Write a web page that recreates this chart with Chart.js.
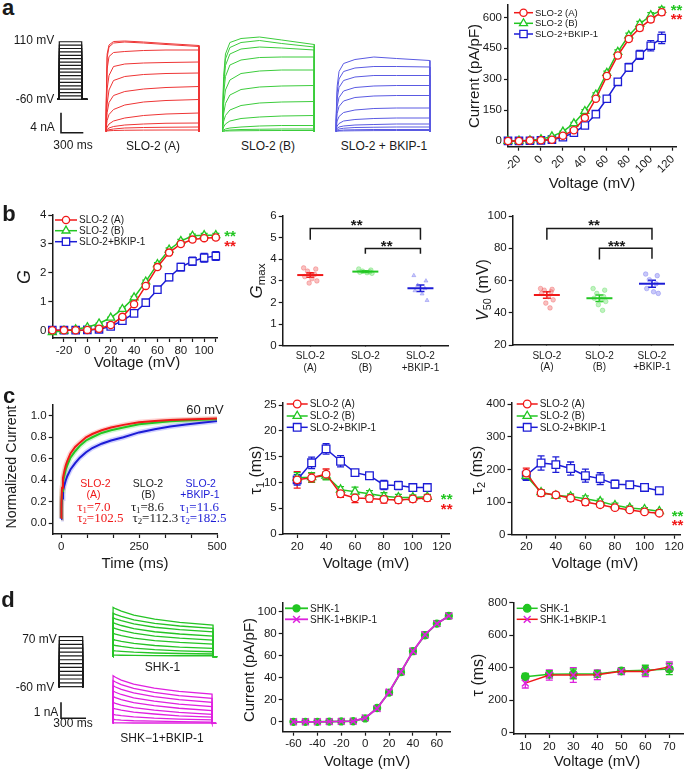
<!DOCTYPE html>
<html><head><meta charset="utf-8">
<script src="https://cdn.jsdelivr.net/npm/chart.js@4.4.1/dist/chart.umd.min.js"></script>
<style>
html,body{margin:0;padding:0;background:#fff;}
#fig{position:relative;width:685px;height:770px;overflow:hidden;background:#fff;font-family:'Liberation Sans',Arial,sans-serif;color:#1a1a1a;}
#fig canvas{position:absolute;}
.t{position:absolute;white-space:nowrap;line-height:1;}
sub{font-size:68%;vertical-align:-0.28em;line-height:0;}
</style></head><body><div id="fig"></div>
<script>
// ================= DATA =================
// panel a : I-V
const IV_V = [-30,-20,-10,0,10,20,30,40,50,60,70,80,90,100,110];
const IV_A = [0,0,2,3,6,25,52,112,205,315,415,495,548,590,625];
const IV_B = [0,1,3,8,22,45,85,145,225,330,432,512,568,610,635];
const IV_C = [0,0,1,3,6,18,40,75,130,205,287,357,418,462,500];
const IV_A_ERR = [0,0,1,1,2,3,5,7,8,9,10,11,12,13,14];
const IV_B_ERR = [0,0,1,1,2,3,5,7,8,9,10,11,12,13,14];
const IV_C_ERR = [0,0,0,1,2,3,5,7,10,13,16,19,22,25,28];
const IV_XTICKS = [-20,0,20,40,60,80,100,120];
const IV_YTICKS = [0,150,300,450,600];

// panel a : raw current traces (nA) at sample times (ms)
const TA = [0,1,15,40,100,250,500,800,1240,1241];
const TRACES_A = [
 [0,4.0,15.5,17.3,18.0,18.1,17.9,17.6,17.2,0],
 [0,3.5,14.8,16.9,17.7,17.9,17.7,17.4,17.0,0],
 [0,3.0,12.5,15.0,15.8,16.0,16.2,16.3,16.3,0],
 [0,2.0,8.5,11.2,13.0,13.5,13.7,13.8,13.9,0],
 [0,1.5,5.5,8.3,10.2,11.0,11.4,11.6,11.7,0],
 [0,1.0,3.8,5.8,7.2,8.0,8.5,8.8,9.0,0],
 [0,0.6,2.2,3.4,4.4,5.3,5.9,6.2,6.4,0],
 [0,0.3,0.9,1.5,2.1,2.7,3.2,3.5,3.7,0],
 [0,0.1,0.4,0.7,1.0,1.3,1.5,1.65,1.7,0],
 [0,0.05,0.2,0.35,0.5,0.7,0.8,0.85,0.9,0],
 [0,0,0.1,0.15,0.2,0.25,0.28,0.3,0.3,0]
];
const TRACES_B = [
 [0,3.0,11.0,15.5,17.8,18.6,18.9,18.3,17.4,0],
 [0,2.5,10.0,14.5,16.8,17.8,18.2,17.6,16.9,0],
 [0,2.2,9.0,13.2,15.5,16.5,16.9,16.7,16.3,0],
 [0,1.8,7.5,11.0,13.3,14.3,14.8,14.9,14.9,0],
 [0,1.3,5.5,8.3,10.3,11.6,12.1,12.3,12.3,0],
 [0,0.9,3.5,5.6,7.3,8.4,8.9,9.1,9.2,0],
 [0,0.5,2.0,3.2,4.3,5.2,5.7,5.9,6.0,0],
 [0,0.2,0.9,1.5,2.1,2.6,2.9,3.1,3.2,0],
 [0,0.1,0.3,0.5,0.7,0.9,1.1,1.2,1.2,0],
 [0,0,0.1,0.2,0.3,0.4,0.45,0.5,0.5,0],
 [0,0,0.05,0.1,0.12,0.15,0.18,0.2,0.2,0]
];
const TRACES_C = [
 [0,2.5,9.0,12.0,13.6,14.4,14.9,14.6,14.2,0],
 [0,2.0,7.8,10.5,12.0,12.7,13.0,13.0,12.9,0],
 [0,1.6,6.5,8.8,10.2,10.9,11.2,11.2,11.2,0],
 [0,1.2,5.0,6.8,8.1,8.8,9.1,9.2,9.2,0],
 [0,0.9,3.6,5.0,6.1,6.8,7.1,7.2,7.2,0],
 [0,0.5,2.1,3.0,3.8,4.3,4.6,4.7,4.7,0],
 [0,0.3,1.1,1.6,2.1,2.4,2.6,2.7,2.7,0],
 [0,0.15,0.6,0.9,1.1,1.3,1.4,1.5,1.5,0],
 [0,0.1,0.3,0.5,0.65,0.8,0.85,0.9,0.9,0],
 [0,0,0.15,0.2,0.3,0.35,0.4,0.4,0.4,0],
 [0,0,0.05,0.1,0.12,0.15,0.18,0.2,0.2,0]
];
const STEPS_A = [-60,-50,-40,-30,-20,-10,0,10,20,30,40,50,60,70,80,90,100,110];
const PROTO_A_T = [-110,0,0,1240,1240,1550];
const SCALE_A = {nA: 4, ms: 300};

// panel b : G-V
const G_V = [-30,-20,-10,0,10,20,30,40,50,60,70,80,90,100,110];
const G_A = [0.02,0.02,0.02,0.03,0.07,0.2,0.48,0.92,1.55,2.2,2.7,3.0,3.15,3.2,3.22];
const G_B = [-0.05,0,0.05,0.12,0.25,0.45,0.75,1.15,1.7,2.3,2.8,3.1,3.28,3.3,3.3];
const G_C = [0.02,0.02,0.02,0.03,0.05,0.15,0.35,0.6,0.97,1.42,1.85,2.2,2.4,2.52,2.58];
const G_A_ERR = [0,0,0,0,0.01,0.02,0.03,0.04,0.05,0.06,0.06,0.07,0.07,0.07,0.07];
const G_B_ERR = [0,0,0,0,0.01,0.02,0.03,0.04,0.05,0.05,0.06,0.06,0.06,0.06,0.06];
const G_C_ERR = [0,0,0,0,0.01,0.02,0.04,0.06,0.08,0.1,0.12,0.13,0.14,0.15,0.15];
const G_XTICKS = [-20,-10,0,10,20,30,40,50,60,70,80,90,100,110];
const G_XLABELS = ['-20','','0','','20','','40','','60','','80','','100',''];
const G_YTICKS = [0,1,2,3,4];

// panel b : Gmax and V50 scatter
const GROUP_X = [1,2,3];
const GROUP_LABELS = [['SLO-2','(A)'],['SLO-2','(B)'],['SLO-2','+BKIP-1']];
const JITTER = [-0.12,0.1,-0.05,0.08,-0.1,0.03,0.12,-0.02,0.06];
const GMAX_A_PTS = [3.6,3.55,3.45,3.3,3.2,3.1,3.0,2.9];
const GMAX_B_PTS = [3.55,3.5,3.45,3.42,3.4,3.38,3.35];
const GMAX_C_PTS = [3.25,3.0,2.8,2.65,2.55,2.4,2.1];
const GMAX_MEAN = [3.27,3.43,2.66];
const GMAX_SEM = [0.1,0.04,0.15];
const GMAX_YTICKS = [0,1,2,3,4,5,6];
const V50_A_PTS = [55,54.5,54,53,52,50,48,46,43];
const V50_B_PTS = [55,54,52,50,49,48,47,45,41.5];
const V50_C_PTS = [64,63,60.5,58,55,53,52];
const V50_MEAN = [51,49,58];
const V50_SEM = [2,2,2.2];
const V50_YTICKS = [20,40,60,80,100];
// [from group, to group, bracket level, left end, right end]
const GMAX_BRACKETS = [[1,3,5.42,4.9,4.9],[2,3,4.5,4.26,4.26]];
const V50_BRACKETS = [[1,3,92.2,85.2,85.2],[2,3,80,73,73.5]];

// panel c : normalized current at 60 mV
const CN_T = [0,1,3,6,10,15,20,30,45,60,80,100,130,160,200,250,300,350,400,450,500];
const CN_A = [0.05,0.2,0.33,0.42,0.48,0.54,0.58,0.65,0.71,0.75,0.8,0.83,0.865,0.89,0.915,0.94,0.952,0.96,0.965,0.97,0.975];
const CN_B = [0.05,0.18,0.3,0.38,0.44,0.5,0.54,0.61,0.67,0.72,0.77,0.8,0.84,0.865,0.89,0.92,0.935,0.948,0.955,0.962,0.968];
const CN_C = [0.04,0.14,0.23,0.3,0.35,0.4,0.44,0.5,0.56,0.61,0.66,0.7,0.74,0.77,0.8,0.845,0.875,0.9,0.918,0.935,0.95];
const CN_XTICKS = [0,83.3,166.7,250,333.3,416.7,500];
const CN_XLABELS = ['0','','','250','','','500'];
const CN_YTICKS = [0,0.2,0.4,0.6,0.8,1.0];
const CN_YLABELS = ['0.0','0.2','0.4','0.6','0.8','1.0'];

// panel c : tau1 / tau2
const TAU_V = [20,30,40,50,60,70,80,90,100,110];
const T1_A = [10.5,10.9,11.6,7.8,7.0,6.9,6.7,6.6,6.8,7.0];
const T1_B = [10.9,11.0,11.3,8.6,8.2,7.8,7.3,7.1,7.1,7.2];
const T1_C = [10.5,13.8,16.5,14.1,11.9,11.3,9.5,9.4,9.0,9.0];
const T1_A_ERR = [1.6,0.9,1.0,0.7,0.9,0.7,0.7,0.6,0.6,0.6];
const T1_B_ERR = [1.0,0.9,0.8,0.6,0.9,0.6,0.7,0.6,0.5,0.5];
const T1_C_ERR = [1.0,1.1,1.0,1.1,0.6,0.6,0.9,0.8,0.6,0.6];
const T2_A = [189,128,122,112,100,92,83,76,70,66];
const T2_B = [180,130,120,117,110,102,90,82,78,72];
const T2_C = [182,220,215,203,181,172,155,153,145,135];
const T2_A_ERR = [15,10,8,10,10,7,6,6,5,5];
const T2_B_ERR = [12,8,8,8,9,7,7,6,5,5];
const T2_C_ERR = [15,22,24,20,20,18,12,10,10,7];
const TAU_XTICKS = [20,40,60,80,100,120];
const T1_YTICKS = [0,5,10,15,20,25];
const T2_YTICKS = [0,100,200,300,400];

// panel d
const TD = [0,1,30,100,250,500,800,1200,1201,1250];
const TRACES_SHK = [
 [0,3.08,3.0,2.85,2.6,2.35,2.15,1.98,0,0],
 [0,2.71,2.64,2.52,2.3,2.08,1.92,1.77,0,0],
 [0,2.44,2.37,2.25,2.05,1.84,1.69,1.56,0,0],
 [0,2.13,2.07,1.95,1.76,1.56,1.42,1.29,0,0],
 [0,1.81,1.75,1.64,1.47,1.29,1.16,1.04,0,0],
 [0,1.46,1.41,1.31,1.16,1.0,0.89,0.79,0,0],
 [0,1.08,1.04,0.96,0.83,0.7,0.6,0.52,0,0],
 [0,0.73,0.7,0.64,0.54,0.44,0.37,0.31,0,0],
 [0,0.38,0.36,0.33,0.28,0.23,0.2,0.17,0,0],
 [0,0.1,0.1,0.09,0.08,0.07,0.06,0.06,0,0]
];
const TRACES_SHK_BKIP = [
 [0,2.98,2.88,2.7,2.45,2.2,2.0,1.83,0,0],
 [0,2.67,2.58,2.42,2.18,1.93,1.73,1.56,0,0],
 [0,2.35,2.27,2.12,1.9,1.67,1.48,1.31,0,0],
 [0,2.02,1.94,1.8,1.59,1.38,1.2,1.04,0,0],
 [0,1.67,1.6,1.48,1.29,1.1,0.94,0.79,0,0],
 [0,1.31,1.25,1.14,0.98,0.82,0.68,0.56,0,0],
 [0,0.94,0.9,0.82,0.7,0.58,0.47,0.38,0,0],
 [0,0.56,0.53,0.48,0.4,0.32,0.26,0.21,0,0],
 [0,0.25,0.23,0.2,0.16,0.13,0.1,0.08,0,0],
 [0,0.03,0.03,0.03,0.02,0.02,0.02,0.02,0,0]
];
const STEPS_D = [-60,-50,-40,-30,-20,-10,0,10,20,30,40,50,60,70];
const PROTO_D_T = [-40,0,0,1200,1200,1240];
const SCALE_D = {nA: 1, ms: 300};
const DIV_V = [-60,-50,-40,-30,-20,-10,0,10,20,30,40,50,60,70];
const DIV_A = [0,0,0,0.2,0.3,0.5,3,12.5,26.5,45,64,78.5,89,96];
const DIV_B = [0,0,0,0.2,0.3,0.5,3.5,12,27,45.5,64,79,89,96];
const DIV_ERR = [0,0,0,0,0,0,1,1.5,2,2.5,2.5,2.5,2.5,2.5];
const DIV_XTICKS = [-60,-40,-20,0,20,40,60];
const DIV_YTICKS = [0,20,40,60,80,100];
const DT_V = [10,20,30,40,50,60,70];
const DT_A = [345,360,362,362,380,385,392];
const DT_B = [305,355,355,357,378,376,405];
const DT_A_ERR = [20,22,30,20,20,30,35];
const DT_B_ERR = [30,32,45,30,20,30,30];
const DT_XTICKS = [10,20,30,40,50,60,70];
const DT_YTICKS = [0,200,400,600,800];

// ================= STYLE / LAYOUT =================
const RED = '#f01818', GREEN = '#22c622', BLUE = '#1c1cd6', MAG = '#dd22dd';
const RED_T = '#ee3535', GREEN_T = '#3ccc3c', BLUE_T = '#5a5ae2', MAG_T = '#e020e0', GREEN_D = '#25c425';
const INK = '#1a1a1a';

Chart.defaults.font.family = "'Liberation Sans', Arial, sans-serif";
Chart.defaults.color = INK;
Chart.defaults.animation = false;
Chart.defaults.responsive = false;
Chart.defaults.devicePixelRatio = 1;
Chart.defaults.events = [];
Chart.defaults.plugins.legend.display = false;
Chart.defaults.plugins.tooltip.enabled = false;

const fig = document.getElementById('fig');
function addCanvas(l, t, w, h) {
  const c = document.createElement('canvas');
  c.width = w; c.height = h;
  c.style.left = l + 'px'; c.style.top = t + 'px';
  c.style.width = w + 'px'; c.style.height = h + 'px';
  fig.appendChild(c);
  return c;
}
function T(x, y, html, css, rot) {
  const d = document.createElement('div');
  d.className = 't';
  d.innerHTML = html;
  d.style.cssText = (css || '') + `;left:${x}px;top:${y}px;transform:translate(-50%,-50%)` + (rot ? ` rotate(${rot}deg)` : '') + ';';
  fig.appendChild(d);
}
function stars(x, y, s, color) { T(x, y + 2.5, s, `font-size:15px;font-weight:bold;color:${color}`); }

function drawMarker(ctx, ds, x, y) {
  const o = {pointStyle: ds.pointStyle, radius: ds.pointRadius, borderWidth: ds.pointBorderWidth, rotation: 0};
  ctx.fillStyle = ds.pointBackgroundColor; ctx.strokeStyle = ds.pointBorderColor; ctx.lineWidth = ds.pointBorderWidth;
  if (Chart.helpers && Chart.helpers.drawPoint) Chart.helpers.drawPoint(ctx, o, x, y);
  else { ctx.beginPath(); ctx.arc(x, y, ds.pointRadius, 0, Math.PI * 2); ctx.fill(); ctx.stroke(); }
}
const errPlugin = {id: 'errbars', beforeDatasetsDraw(chart) {
  const ctx = chart.ctx, ys = chart.scales.y;
  chart.data.datasets.forEach((ds, i) => {
    if (!ds.errs) return;
    const meta = chart.getDatasetMeta(i);
    ctx.save();
    ctx.strokeStyle = ds.errColor || ds.pointBorderColor || ds.borderColor;
    ctx.lineWidth = ds.errWidth || 1.3;
    meta.data.forEach((el, j) => {
      const e = ds.errs[j]; if (!e) return;
      const v = ds.data[j].y, x = el.x, c = ds.capW || 3.5;
      const y1 = ys.getPixelForValue(v + e), y2 = ys.getPixelForValue(v - e);
      ctx.beginPath();
      ctx.moveTo(x, y1); ctx.lineTo(x, y2);
      ctx.moveTo(x - c, y1); ctx.lineTo(x + c, y1);
      ctx.moveTo(x - c, y2); ctx.lineTo(x + c, y2);
      ctx.stroke();
    });
    ctx.restore();
  });
}};
function legendPlugin(cfg, offX, offY) {
  return {id: 'mylegend', afterDraw(chart) {
    const ctx = chart.ctx;
    ctx.save(); ctx.translate(-offX, -offY);
    cfg.rows.forEach((dsi, k) => {
      const ds = chart.data.datasets[dsi];
      const y = cfg.ys[k], x0 = cfg.x, x1 = cfg.x + cfg.len;
      ctx.strokeStyle = ds.legendLine || ds.borderColor; ctx.lineWidth = ds.borderWidth;
      ctx.beginPath(); ctx.moveTo(x0, y); ctx.lineTo(x1, y); ctx.stroke();
      drawMarker(ctx, ds, (x0 + x1) / 2, y);
      ctx.fillStyle = INK; ctx.font = cfg.font; ctx.textBaseline = 'middle'; ctx.textAlign = 'left';
      ctx.fillText(ds.label, x1 + 2, y + 0.5);
    });
    ctx.restore();
  }};
}
function bracketPlugin(items) {
  return {id: 'brackets', afterDatasetsDraw(chart) {
    const ctx = chart.ctx, xs = chart.scales.x, ys = chart.scales.y;
    ctx.save(); ctx.strokeStyle = INK; ctx.lineWidth = 1.5;
    items.forEach(([a, b, y, d1, d2]) => {
      const xa = xs.getPixelForValue(a), xb = xs.getPixelForValue(b);
      ctx.beginPath();
      ctx.moveTo(xa, ys.getPixelForValue(d1)); ctx.lineTo(xa, ys.getPixelForValue(y));
      ctx.lineTo(xb, ys.getPixelForValue(y)); ctx.lineTo(xb, ys.getPixelForValue(d2));
      ctx.stroke();
    });
    ctx.restore();
  }};
}
function scaleCfg(o, axis, fit) {
  return {
    type: 'linear', position: axis === 'x' ? 'bottom' : 'left', bounds: 'data',
    min: o.min, max: o.max,
    afterBuildTicks: s => { s.ticks = o.ticks.map(v => ({value: v})); },
    afterFit: s => { if (axis === 'x') s.height = fit; else s.width = fit; },
    ticks: {
      autoSkip: false, maxRotation: o.rot || 0, minRotation: o.rot || 0,
      font: {size: o.fs || 11.5, lineHeight: 1.15}, color: INK, padding: o.pad ?? 2,
      callback: (v, i) => (o.labels ? o.labels[i] : String(v)),
    },
    grid: {display: true, drawOnChartArea: false, drawTicks: true, tickLength: o.tl ?? 4, tickColor: INK, tickWidth: 1.2},
    border: {display: true, color: INK, width: 1.5},
  };
}
const YW = 62, XH = 44, PT = 14, PR = 16;
function axisChart(area, xo, yo, datasets, extras) {
  extras = extras || {};
  const L = Math.floor(area.l - YW), Tp = Math.floor(area.t - PT);
  const W = Math.ceil(area.r + PR - L), H = Math.ceil(area.b + XH - Tp);
  const cv = addCanvas(L, Tp, W, H);
  const plugins = [errPlugin];
  if (extras.legend) plugins.push(legendPlugin(extras.legend, L, Tp));
  if (extras.brackets) plugins.push(bracketPlugin(extras.brackets));
  return new Chart(cv, {
    type: 'scatter',
    data: {datasets},
    options: {
      layout: {padding: {left: 0, top: area.t - Tp, right: L + W - area.r, bottom: 0}},
      scales: {x: scaleCfg(xo, 'x', Tp + H - area.b), y: scaleCfg(yo, 'y', area.l - L)},
    },
    plugins
  });
}
function rawChart(box, origin, ppx, ppy, datasets) {
  const cv = addCanvas(box.l, box.t, box.w, box.h);
  const xmin = (box.l - origin.x) / ppx, xmax = (box.l + box.w - origin.x) / ppx;
  const ymax = (origin.y - box.t) / ppy, ymin = (origin.y - box.t - box.h) / ppy;
  return new Chart(cv, {type: 'scatter', data: {datasets}, options: {
    layout: {padding: 0},
    scales: {x: {type: 'linear', display: false, min: xmin, max: xmax}, y: {type: 'linear', display: false, min: ymin, max: ymax}}
  }});
}
function pts(xs, ys) { return xs.map((x, i) => ({x, y: ys[i]})); }
function series(label, xs, ys, o) {
  return Object.assign({
    label, data: pts(xs, ys), showLine: true, borderWidth: 1.5,
    pointRadius: 3.8, pointBorderWidth: 1.3, pointBackgroundColor: '#fff', clip: false,
  }, o);
}
function traceSets(times, traces, color, w) {
  return traces.map(tr => ({data: pts(times, tr), showLine: true, borderColor: color, borderWidth: w || 1, pointRadius: 0, clip: false}));
}
function protoSets(times, steps, hold) {
  return steps.map(v => ({data: times.map((t, i) => ({x: t, y: (i === 2 || i === 3) ? v : hold})),
    showLine: true, borderColor: INK, borderWidth: 1.2, pointRadius: 0, clip: false}));
}
function scaleBarSet(sb) {
  return [{data: [{x: 0, y: sb.nA}, {x: 0, y: 0}, {x: sb.ms, y: 0}], showLine: true, borderColor: INK, borderWidth: 1.6, pointRadius: 0, clip: false}];
}

// ================= PANEL a =================
rawChart({l: 54, t: 36, w: 38, h: 68}, {x: 59.3, y: 79}, 22.4 / 1240, 57.6 / 170, protoSets(PROTO_A_T, STEPS_A, -60));
rawChart({l: 58, t: 108, w: 32, h: 28}, {x: 61, y: 132.7}, 0.0744, 5, scaleBarSet(SCALE_A));
rawChart({l: 102, t: 32, w: 102, h: 104}, {x: 106, y: 131.5}, 0.075, 5, traceSets(TA, TRACES_A, RED_T));
rawChart({l: 218, t: 28, w: 102, h: 108}, {x: 222.5, y: 131.5}, 0.074, 5, traceSets(TA, TRACES_B, GREEN_T));
rawChart({l: 332, t: 48, w: 102, h: 88}, {x: 336, y: 131.5}, 0.0757, 5, traceSets(TA, TRACES_C, BLUE_T));

axisChart({l: 508, r: 676, t: 5, b: 146.7},
  {min: -30, max: 123, ticks: IV_XTICKS, rot: 45, fs: 11.5},
  {min: -28, max: 660, ticks: IV_YTICKS, fs: 11.5},
  [
    series('SLO-2 (A)', IV_V, IV_A, {borderColor: RED, pointBorderColor: RED, pointStyle: 'circle', pointRadius: 3.6, errs: IV_A_ERR}),
    series('SLO-2 (B)', IV_V, IV_B, {borderColor: GREEN, pointBorderColor: GREEN, pointStyle: 'triangle', pointRadius: 4.6, errs: IV_B_ERR}),
    series('SLO-2+BKIP-1', IV_V, IV_C, {borderColor: BLUE, pointBorderColor: BLUE, pointStyle: 'rect', pointRadius: 5.2, errs: IV_C_ERR}),
  ],
  {legend: {x: 514, len: 19, ys: [12.7, 23.3, 34], rows: [0, 1, 2], font: "9.5px 'Liberation Sans', Arial"}});

// ================= PANEL b =================
axisChart({l: 52.3, r: 217, t: 215, b: 338},
  {min: -30, max: 111, ticks: G_XTICKS, labels: G_XLABELS, fs: 11.5},
  {min: -0.25, max: 4, ticks: G_YTICKS, fs: 11.5},
  [
    series('SLO-2 (A)', G_V, G_A, {borderColor: RED, pointBorderColor: RED, pointStyle: 'circle', pointRadius: 3.6, errs: G_A_ERR}),
    series('SLO-2 (B)', G_V, G_B, {borderColor: GREEN, pointBorderColor: GREEN, pointStyle: 'triangle', pointRadius: 4.6, errs: G_B_ERR}),
    series('SLO-2+BKIP-1', G_V, G_C, {borderColor: BLUE, pointBorderColor: BLUE, pointStyle: 'rect', pointRadius: 5.2, errs: G_C_ERR}),
  ],
  {legend: {x: 55, len: 22, ys: [220, 230.7, 241.7], rows: [0, 1, 2], font: "10px 'Liberation Sans', Arial"}});

function groupSets(ptsArr, means, sems, shapes, cols, light) {
  const out = [];
  means.forEach((m, g) => {
    out.push({data: [{x: GROUP_X[g], y: m}], pointStyle: 'line', pointRadius: 13, pointBorderWidth: 2,
      pointBorderColor: cols[g], borderColor: cols[g], errs: [sems[g]], capW: 4, errWidth: 1.6, clip: false});
  });
  ptsArr.forEach((arr, g) => {
    out.push({data: arr.map((v, i) => ({x: GROUP_X[g] + JITTER[i], y: v})), pointStyle: shapes[g], pointRadius: 2.3,
      pointBorderWidth: 1, pointBackgroundColor: light[g], pointBorderColor: light[g], clip: false});
  });
  return out;
}
const LIGHT = ['rgba(240,90,90,0.38)', 'rgba(90,220,90,0.38)', 'rgba(110,110,240,0.38)'];
axisChart({l: 282.7, r: 448, t: 215, b: 345.8},
  {min: 0.5, max: 3.5, ticks: GROUP_X, labels: GROUP_LABELS, fs: 10, tl: 0, pad: 5},
  {min: 0, max: 6, ticks: GMAX_YTICKS, fs: 11.5},
  groupSets([GMAX_A_PTS, GMAX_B_PTS, GMAX_C_PTS], GMAX_MEAN, GMAX_SEM, ['circle', 'circle', 'triangle'], [RED, GREEN, BLUE], LIGHT),
  {brackets: GMAX_BRACKETS});
axisChart({l: 512.7, r: 673, t: 215, b: 345},
  {min: 0.35, max: 3.4, ticks: GROUP_X, labels: GROUP_LABELS, fs: 10, tl: 0, pad: 5},
  {min: 20, max: 100, ticks: V50_YTICKS, fs: 11.5},
  groupSets([V50_A_PTS, V50_B_PTS, V50_C_PTS], V50_MEAN, V50_SEM, ['circle', 'circle', 'circle'], [RED, GREEN, BLUE], LIGHT),
  {brackets: V50_BRACKETS});

// ================= PANEL c =================
function fitSet(ys, color) { return {data: pts(CN_T, ys), showLine: true, borderColor: color, borderWidth: 2, pointRadius: 0, clip: false}; }
function rawSet(ys, color) { return {data: pts(CN_T, ys), showLine: true, borderColor: color, borderWidth: 5, pointRadius: 0, clip: false}; }
axisChart({l: 52.7, r: 217, t: 405, b: 534},
  {min: -27, max: 500, ticks: CN_XTICKS, labels: CN_XLABELS, fs: 11.5},
  {min: -0.1, max: 1.1, ticks: CN_YTICKS, labels: CN_YLABELS, fs: 11.5},
  [fitSet(CN_A, RED), fitSet(CN_B, GREEN), fitSet(CN_C, BLUE),
   rawSet(CN_A, 'rgba(255,120,120,0.35)'), rawSet(CN_B, 'rgba(120,230,120,0.35)'), rawSet(CN_C, 'rgba(150,150,255,0.45)')]);

axisChart({l: 282.7, r: 449, t: 403, b: 534},
  {min: 10, max: 125, ticks: TAU_XTICKS, fs: 11.5},
  {min: 0, max: 25.4, ticks: T1_YTICKS, fs: 11.5},
  [
    series('SLO-2 (A)', TAU_V, T1_A, {borderColor: RED, pointBorderColor: RED, pointStyle: 'circle', pointRadius: 3.8, errs: T1_A_ERR}),
    series('SLO-2 (B)', TAU_V, T1_B, {borderColor: GREEN, pointBorderColor: GREEN, pointStyle: 'triangle', pointRadius: 4.8, errs: T1_B_ERR}),
    series('SLO-2+BKIP-1', TAU_V, T1_C, {borderColor: BLUE, pointBorderColor: BLUE, pointStyle: 'rect', pointRadius: 5.4, errs: T1_C_ERR}),
  ],
  {legend: {x: 286.7, len: 21, ys: [404, 416, 427.3], rows: [0, 1, 2], font: "10px 'Liberation Sans', Arial"}});

axisChart({l: 511.5, r: 680, t: 403, b: 534.7},
  {min: 10, max: 124, ticks: TAU_XTICKS, fs: 11.5},
  {min: 0, max: 404, ticks: T2_YTICKS, fs: 11.5},
  [
    series('SLO-2 (A)', TAU_V, T2_A, {borderColor: RED, pointBorderColor: RED, pointStyle: 'circle', pointRadius: 3.8, errs: T2_A_ERR}),
    series('SLO-2 (B)', TAU_V, T2_B, {borderColor: GREEN, pointBorderColor: GREEN, pointStyle: 'triangle', pointRadius: 4.8, errs: T2_B_ERR}),
    series('SLO-2+BKIP-1', TAU_V, T2_C, {borderColor: BLUE, pointBorderColor: BLUE, pointStyle: 'rect', pointRadius: 5.4, errs: T2_C_ERR}),
  ],
  {legend: {x: 516.7, len: 21, ys: [404, 416, 427.3], rows: [0, 1, 2], font: "10px 'Liberation Sans', Arial"}});

// ================= PANEL d =================
rawChart({l: 54, t: 632, w: 34, h: 60}, {x: 59.3, y: 663.6}, 23.4 / 1200, 50 / 130, protoSets(PROTO_D_T, STEPS_D, -60));
rawChart({l: 58, t: 698, w: 32, h: 24}, {x: 61, y: 718.3}, 25 / 300, 16, scaleBarSet(SCALE_D));
rawChart({l: 109, t: 602, w: 114, h: 58}, {x: 113, y: 656.7}, 100 / 1200, 16, traceSets(TD, TRACES_SHK, GREEN_D, 1.3));
rawChart({l: 109, t: 670, w: 114, h: 57}, {x: 113, y: 723.3}, 99 / 1200, 16, traceSets(TD, TRACES_SHK_BKIP, MAG_T, 1.3));

axisChart({l: 282.7, r: 450, t: 602.7, b: 731.7},
  {min: -69, max: 71, ticks: DIV_XTICKS, fs: 11.5},
  {min: -9, max: 108, ticks: DIV_YTICKS, fs: 11.5},
  [
    series('SHK-1+BKIP-1', DIV_V, DIV_B, {borderColor: MAG, pointBorderColor: MAG, pointStyle: 'crossRot', pointRadius: 4.8, pointBorderWidth: 1.5, borderWidth: 1.8, errs: DIV_ERR}),
    series('SHK-1', DIV_V, DIV_A, {borderColor: GREEN, pointBorderColor: GREEN, pointBackgroundColor: GREEN, pointStyle: 'circle', pointRadius: 3.5, borderWidth: 1.8, errs: DIV_ERR}),
  ],
  {legend: {x: 285, len: 23, ys: [608.3, 619.3], rows: [1, 0], font: "10px 'Liberation Sans', Arial"}});

axisChart({l: 513.3, r: 683, t: 602.7, b: 734},
  {min: 5, max: 75.7, ticks: DT_XTICKS, fs: 11.5},
  {min: -8, max: 800, ticks: DT_YTICKS, fs: 11.5},
  [
    series('SHK-1+BKIP-1', DT_V, DT_B, {borderColor: RED, legendLine: RED, pointBorderColor: MAG, pointStyle: 'crossRot', pointRadius: 4.8, pointBorderWidth: 1.5, errs: DT_B_ERR, errColor: MAG}),
    series('SHK-1', DT_V, DT_A, {borderColor: GREEN, pointBorderColor: GREEN, pointBackgroundColor: GREEN, pointStyle: 'circle', pointRadius: 3.8, errs: DT_A_ERR}),
  ],
  {legend: {x: 516.7, len: 21, ys: [608.3, 619.3], rows: [1, 0], font: "10px 'Liberation Sans', Arial"}});

// ================= TEXT =================
const LET = 'font-size:22px;font-weight:bold';
T(8, 8, 'a', LET); T(9, 214, 'b', LET); T(9, 396, 'c', LET); T(8, 600, 'd', LET);
const LB = 'font-size:12px';
T(34, 40, '110 mV', LB); T(35, 99.3, '-60 mV', LB); T(42.5, 127, '4 nA', LB); T(73, 145, '300 ms', LB);
T(153, 146, 'SLO-2 (A)', LB); T(268, 146, 'SLO-2 (B)', LB); T(384, 146, 'SLO-2 + BKIP-1', LB);
T(39.5, 639.3, '70 mV', LB); T(35, 686.7, '-60 mV', LB); T(46, 711.7, '1 nA', LB); T(73, 723.3, '300 ms', LB);
T(162.5, 666.7, 'SHK-1', LB); T(162, 738.3, 'SHK\u22121+BKIP-1', LB);

const AT = 'font-size:15px';
T(473, 76, 'Current (pA/pF)', AT, -90); T(592, 182, 'Voltage (mV)', AT);
T(24, 277, '<i>G</i>', 'font-size:18px', -90); T(137, 361, 'Voltage (mV)', AT);
T(256, 281, '<i>G</i><sub>max</sub>', 'font-size:17px', -90);
T(483, 290, '<i>V</i><sub>50</sub> (mV)', 'font-size:16px', -90);
T(11, 467, 'Normalized Current', 'font-size:14.2px', -90); T(135, 562, 'Time (ms)', AT);
T(256, 470, '\u03c4<sub>1</sub> (ms)', 'font-size:16px', -90); T(366, 562, 'Voltage (mV)', AT);
T(477, 470, '\u03c4<sub>2</sub> (ms)', 'font-size:16px', -90); T(595, 562, 'Voltage (mV)', AT);
T(248, 670, 'Current (pA/pF)', AT, -90); T(367, 760, 'Voltage (mV)', AT);
T(478, 675, '\u03c4 (ms)', 'font-size:16px', -90); T(597, 760, 'Voltage (mV)', AT);

// panel c annotations
T(205, 409.3, '60 mV', 'font-size:13px');
const SA = 'font-size:10.5px;color:', SR = "font-family:'Liberation Serif','Times New Roman',serif;font-size:13px;color:";
T(95.5, 482.7, 'SLO-2', SA + RED); T(93.5, 494.3, '(A)', SA + RED);
T(93.8, 506, '\u03c4<sub>1</sub>=7.0', SR + RED); T(100.3, 517.3, '\u03c4<sub>2</sub>=102.5', SR + RED);
T(148, 482.7, 'SLO-2', SA + INK); T(148.3, 494.3, '(B)', SA + INK);
T(147.5, 506, '\u03c4<sub>1</sub>=8.6', SR + INK); T(155.3, 517.3, '\u03c4<sub>2</sub>=112.3', SR + INK);
T(200.8, 482.7, 'SLO-2', SA + BLUE); T(200, 494.3, '+BKIP-1', SA + BLUE);
T(199.3, 506, '\u03c4<sub>1</sub>=11.6', SR + BLUE); T(203.3, 517.3, '\u03c4<sub>2</sub>=182.5', SR + BLUE);

// significance marks
stars(676.5, 6.7, '**', GREEN); stars(676.5, 15, '**', RED);
stars(230, 232.5, '**', GREEN); stars(230, 242.5, '**', RED);
stars(446.7, 495.7, '**', GREEN); stars(446.7, 505.7, '**', RED);
stars(677.5, 512.3, '**', GREEN); stars(677.5, 521.7, '**', RED);
stars(356.7, 221.7, '**', INK); stars(386.7, 242.3, '**', INK);
stars(594, 221.7, '**', INK); stars(616.7, 242.3, '***', INK);
</script></body></html>
